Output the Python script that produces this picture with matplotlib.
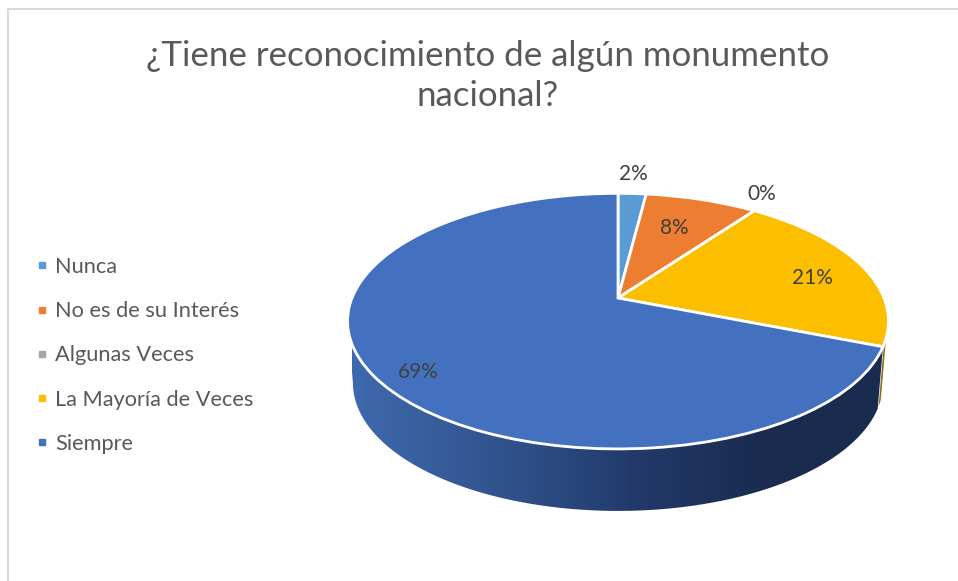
import numpy as np
import matplotlib
matplotlib.use('Agg')
import matplotlib.pyplot as plt
from matplotlib.colors import LinearSegmentedColormap
from matplotlib.lines import Line2D
from matplotlib.patches import Polygon
from matplotlib.transforms import Transform

plt.rcParams['font.family'] = ['Lato', 'DejaVu Sans']

categories = ['Nunca', 'No es de su Interés', 'Algunas Veces', 'La Mayoría de Veces', 'Siempre']
values = [2, 8, 0, 21, 69]
colors = ['#5b9bd5', '#ed7d31', '#a5a5a5', '#fcbf00', '#4371c0']
title = '¿Tiene reconocimiento de algún monumento\nnacional?'

# tilted pie: a projective map of the unit circle onto the screen, in pixels
cx, cy = 618, 298
a, b, k = 266, 123.6, 0.181
depth, shrink = 62, 0.98


def project(u, v):
    w = 1 + k * v
    return cx + a * u / w, cy - b * v / w


class Tilt(Transform):
    input_dims = 2
    output_dims = 2

    def transform_non_affine(self, xy):
        x, y = project(xy[:, 0], xy[:, 1])
        return np.column_stack([x, y])


def rim(t1, t2):
    # angles in degrees, clockwise from the top
    t = np.radians(np.linspace(t1, t2, 200))
    x, y = project(np.sin(t), np.cos(t))
    return x, y


def wall(t1, t2):
    x, y = rim(t1, t2)
    top = np.column_stack([x, y])
    bottom = np.column_stack([cx + shrink * (x - cx), y + depth])[::-1]
    return np.vstack([top, bottom])


fig = plt.figure(figsize=(9.58, 5.81), dpi=100)
ax = fig.add_axes([0, 0, 1, 1])

wedges, _ = ax.pie(values, colors=colors, startangle=90, counterclock=False,
                   wedgeprops={'edgecolor': 'white', 'linewidth': 2})
tilt = Tilt() + ax.transData
for w in wedges:
    w.set_transform(tilt)
    w.set_zorder(5)

# side of the pie
blue_start = sum(values[:4]) / sum(values) * 360
left_end = 360 - np.degrees(np.arccos(-k))
side_cmap = LinearSegmentedColormap.from_list(
    'side', [(0, '#3f69ae'), (0.4, '#2f5189'), (0.7, '#22396a'), (1, '#192c50')])
side = Polygon(wall(blue_start, left_end), closed=True, facecolor='none', edgecolor='none')
ax.add_patch(side)
im = ax.imshow(np.linspace(0, 1, 256).reshape(1, -1), cmap=side_cmap, aspect='auto',
               extent=(352, 760, 581, 0), zorder=2)
im.set_clip_path(side)
# the gradient stops at 760, the rest of the side is the dark end
ax.imshow(np.array([[1.0]]), cmap=side_cmap, vmin=0, vmax=1, aspect='auto',
          extent=(760, 958, 581, 0), zorder=2).set_clip_path(side)
# thin sliver of the yellow slice on the far right
ax.add_patch(Polygon(wall(blue_start - 3.8, blue_start - 0.9), closed=True,
                     facecolor='#8a6d14', edgecolor='none', zorder=1))

ax.set_aspect('auto')
ax.set_xlim(0, 958)
ax.set_ylim(581, 0)
ax.axis('off')

# chart frame, only the left and top sides show
ax.plot([8, 8, 958], [581, 9, 9], color='#d9d9d9', lw=1.5, zorder=1, clip_on=False)

ax.text(488, 76, title, ha='center', va='center', fontsize=25.1, color='#595959', linespacing=1.32)

label_x = [633, 674, 762, 812, 418]
label_y = [174.5, 227.5, 193.5, 277.5, 372.5]
for x, y, v in zip(label_x, label_y, values):
    ax.text(x, y, f'{v}%', ha='center', va='center', fontsize=15, color='#404040', zorder=6)

handles = [Line2D([], [], linestyle='none', marker='s', markersize=5, color=c) for c in colors]
ax.legend(handles, categories, loc='upper left', bbox_to_anchor=(33.5 / 958, 1 - 257 / 581),
          frameon=False, fontsize=15.7, labelcolor='#595959', handlelength=0.8,
          handletextpad=0.2, labelspacing=1.11, borderpad=0, borderaxespad=0)

fig.savefig('out.png', dpi=100)
